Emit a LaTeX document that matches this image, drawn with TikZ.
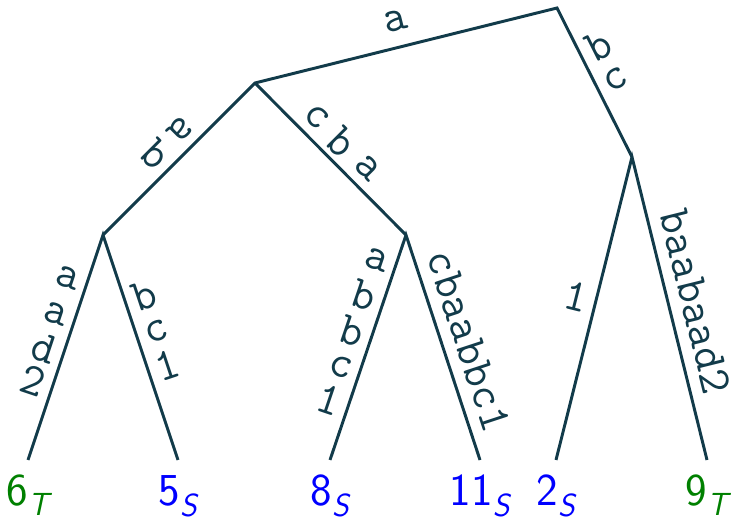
\documentclass[tikz,border=0pt]{standalone}
\usepackage{amsmath}
\usetikzlibrary{calc}
\definecolor{inkline}{HTML}{123B4A}
\definecolor{leafS}{HTML}{0000FF}
\definecolor{leafT}{HTML}{008000}
\tikzset{
  edge/.style={draw=inkline, line width=2.1pt},
  chr/.style={text=inkline, inner sep=0pt, font=\fontsize{32.5}{38}\selectfont\ttfamily},
  leaf/.style={anchor=north, inner sep=0pt, text height=1.14cm,
               font=\fontsize{32.5}{38}\selectfont\sffamily},
}

\begin{document}
\begin{tikzpicture}
  \useasboundingbox (0,0) rectangle (18.4,13);
  % inner nodes of the tree
  \coordinate (R) at (13.925,12.8);
  \coordinate (A) at (6.375,10.925);
  \coordinate (B) at (15.8,9.075);
  \coordinate (C) at (2.575,7.125);
  \coordinate (D) at (10.15,7.125);
  % leaves
  \node[leaf, text=leafT] (l6)  at (0.7,1.5)    {6$_{\text{\itshape T}}$};
  \node[leaf, text=leafS] (l5)  at (4.45,1.5)   {5$_{\text{\itshape S}}$};
  \node[leaf, text=leafS] (l8)  at (8.25,1.5)   {8$_{\text{\itshape S}}$};
  \node[leaf, text=leafS] (l11) at (12.0,1.5)   {11$_{\text{\itshape S}}$};
  \node[leaf, text=leafS] (l2)  at (13.9,1.5)   {2$_{\text{\itshape S}}$};
  \node[leaf, text=leafT] (l9)  at (17.675,1.5) {9$_{\text{\itshape T}}$};
  % edges
  \draw[edge] (C) -- (A) -- (R) -- (B);
  \draw[edge] (A) -- (D);
  \draw[edge] (l6.north) -- (C) -- (l5.north);
  \draw[edge] (l8.north) -- (D) -- (l11.north);
  \draw[edge] (l2.north) -- (B) -- (l9.north);
  % letters on the edges
  \node[chr, rotate=13.95] at ($(R)!0.514!(A)!0.65cm!-90:(A)$) {a};
  \foreach \ch/\t in {b/0.315, c/0.539}
    \node[chr, rotate=26.72] at ($(R)!\t!(B)!0.5cm!90:(B)$) {\ch};
  \foreach \ch/\t/\r in {a/0.40/225, b/0.56/-45}
    \node[chr, rotate=\r] at ($(A)!\t!(C)!0.5cm!-90:(C)$) {\ch};
  \foreach \ch/\t in {c/0.314, b/0.48, a/0.65}
    \node[chr, rotate=-45] at ($(A)!\t!(D)!0.5cm!90:(D)$) {\ch};
  \foreach \ch/\t in {a/0.22, a/0.378, d/0.533, 2/0.674}
    \node[chr, rotate=-18.43] at ($(C)!\t!(l6.north)!0.5cm!-90:(l6.north)$) {\ch};
  \foreach \ch/\t in {b/0.296, c/0.458, 1/0.607}
    \node[chr, rotate=18.43] at ($(C)!\t!(l5.north)!0.5cm!90:(l5.north)$) {\ch};
  \foreach \ch/\t in {a/0.141, b/0.296, b/0.458, c/0.613, 1/0.763}
    \node[chr, rotate=-18.67] at ($(D)!\t!(l8.north)!0.5cm!-90:(l8.north)$) {\ch};
  \node[chr, rotate=-71.79] at ($(D)!0.507!(l11.north)!0.67cm!90:(l11.north)$) {cbaabbc1};
  \node[chr, rotate=-14.08] at ($(B)!0.478!(l2.north)!0.5cm!-90:(l2.north)$) {1};
  \node[chr, rotate=-76.1] at ($(B)!0.499!(l9.north)!0.67cm!90:(l9.north)$) {baabaad2};
\end{tikzpicture}
\end{document}
